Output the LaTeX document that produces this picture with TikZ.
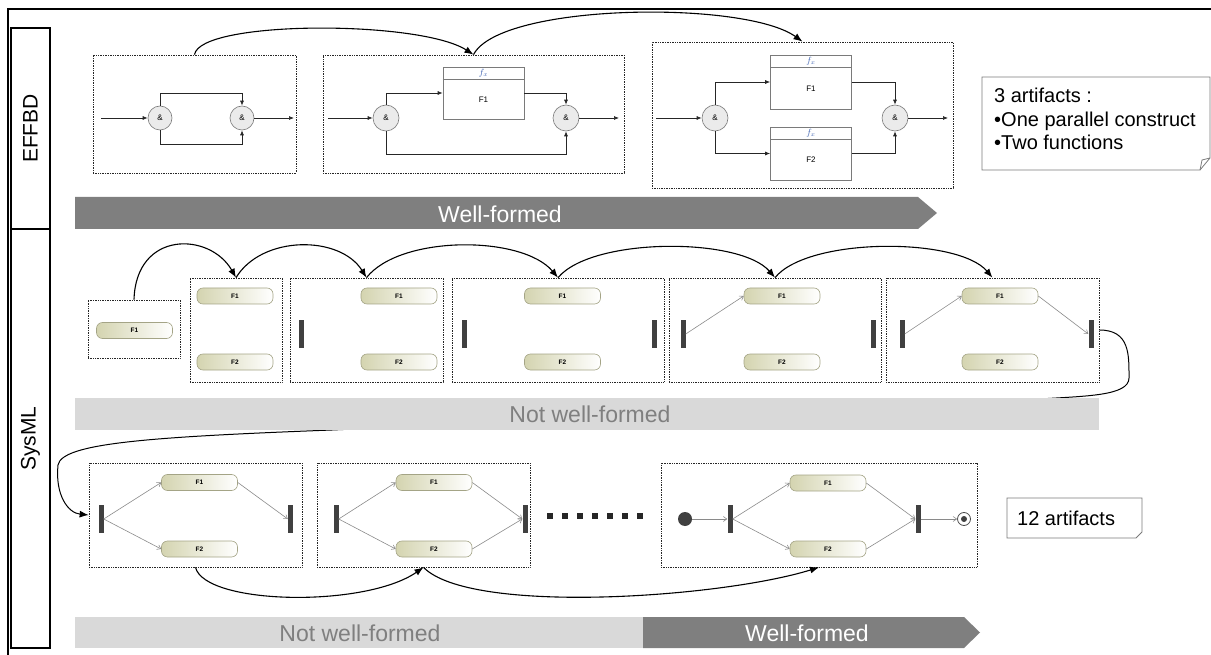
\documentclass[tikz,border=0pt]{standalone}
\usepackage{fontspec}
\setmainfont{Liberation Sans}
\usetikzlibrary{arrows.meta,calc}
\definecolor{dk}{HTML}{7F7F7F}
\definecolor{lt}{HTML}{D9D9D9}
\definecolor{barc}{HTML}{404040}
\definecolor{pillL}{HTML}{D4D4B0}
\definecolor{pillB}{HTML}{A4A486}
\definecolor{fxblue}{HTML}{3A5FB0}
\definecolor{fgray}{HTML}{7A7A7A}
\definecolor{circfill}{HTML}{EBEBEB}
\definecolor{sgray}{HTML}{8A8A8A}
\begin{document}
\begin{tikzpicture}[x=1pt,y=-1pt,
  frame/.style 2 args={draw=black!85, densely dotted, line width=0.7pt, inner sep=0pt, minimum width=#1, minimum height=#2},
  labelbox/.style 2 args={draw=black, line width=1.3pt, inner sep=0pt, rotate=90, minimum width=#1, minimum height=#2, font=\fontsize{21}{21}\selectfont},
  fcirc/.style={circle, draw=fgray, fill=circfill, line width=0.6pt, minimum size=24pt, inner sep=0pt, font=\fontsize{8}{8}\selectfont},
  fnbox/.style={draw=fgray, fill=white, line width=0.7pt, minimum width=81pt, minimum height=53pt, inner sep=0pt},
  fxlabel/.style={text=fxblue, font=\fontsize{9}{9}\selectfont, inner sep=0pt},
  fnlabel/.style={font=\fontsize{8}{8}\selectfont, inner sep=0pt},
  effarr/.style={draw=black!85, line width=0.7pt, -{Latex[length=5pt,width=4pt]}},
  pill/.style={draw=pillB, line width=0.6pt, rounded corners=6pt, left color=pillL, right color=white, minimum width=76pt, minimum height=16pt, inner sep=0pt, font=\fontsize{6.5}{7}\selectfont\bfseries},
  forkbar/.style={fill=barc, minimum width=5pt, minimum height=27pt, inner sep=0pt},
  sarr/.style={draw=sgray, line width=0.6pt, -{Straight Barb[length=3.5pt,width=5pt]}},
  bigarr/.style={draw=black, line width=1.1pt, -{Latex[length=9pt,width=7pt]}},
  bartext/.style={font=\fontsize{23}{23}\selectfont, inner sep=0pt},
  notetext/.style={font=\fontsize{20}{20}\selectfont, inner sep=0pt},
  notebox/.style={draw=fgray, line width=0.8pt}
]
\useasboundingbox (0,0) rectangle (1211,655);

% outer frame
\draw[line width=2pt] (8,655) -- (8,9) -- (1211,9);
\node[labelbox={201}{39}] (effbd) at (30.5,128.5) {EFFBD};
\node[labelbox={419}{39}] (sysml) at (30.5,438.5) {SysML};

% ================= EFFBD row =================
% Box A
\node[frame={203}{118}] (A) at (194.5,114) {};
\coordinate (ain) at (101,118);
\coordinate (aout) at (294,118);
\node[fcirc] (a1) at (160,118) {\&};
\node[fcirc] (a2) at (242,118) {\&};
\draw[effarr] (ain) -- (a1);
\draw[effarr] (a1.north) -- ++(0,-12) -| (a2.north);
\draw[effarr] (a1.south) -- ++(0,14) -| (a2.south);
\draw[effarr] (a2) -- (aout);

% Box B
\node[frame={301}{118}] (B) at (473.5,114) {};
\coordinate (bin) at (328,118);
\coordinate (bout) at (619,118);
\node[fcirc, minimum size=26pt] (b1) at (386,118) {\&};
\node[fnbox, minimum height=52pt] (bf1) at (483.5,93) {};
\node[fcirc, minimum size=26pt] (b2) at (566,118) {\&};
\draw[effarr] (bin) -- (b1);
\draw[effarr] (b1.north) |- (bf1.west);
\draw[effarr] (bf1.east) -| (b2.north);
\draw[effarr] (b1.south) -- ++(0,23) -| (b2.south);
\draw[effarr] (b2) -- (bout);

% Box C
\node[frame={301}{146}] (C) at (802.5,115) {};
\coordinate (cin) at (656,118);
\coordinate (cout) at (948,118);
\node[fcirc, minimum size=26pt] (c1) at (715,118) {\&};
\node[fnbox, minimum height=54pt] (cf1) at (811,82) {};
\node[fnbox] (cf2) at (811,153.5) {};
\node[fcirc, minimum size=26pt] (c2) at (895,118) {\&};
\draw[effarr] (cin) -- (c1);
\draw[effarr] (c1.north) |- (cf1.west);
\draw[effarr] (c1.south) |- (cf2.west);
\draw[effarr] (cf1.east) -| (c2.north);
\draw[effarr] (cf2.east) -| (c2.south);
\draw[effarr] (c2) -- (cout);

\foreach \n/\t in {bf1/F1, cf1/F1, cf2/F2} {
  \draw[draw=fgray, line width=0.7pt] ($(\n.north west)+(0,13)$) -- ($(\n.north east)+(0,13)$);
  \node[fxlabel] (\n-fx) at ($(\n.north)+(0,6.5)$) {$f_{x}$};
  \node[fnlabel] (\n-t) at ($(\n.center)+(0,6.5)$) {\t};
}

% curved arrows EFFBD
\draw[bigarr] (A.north) .. controls (200,20) and (420,20) .. (B.north);
\draw[bigarr] (B.north) .. controls (500,3) and (745,0) .. (C.north);

% note
\draw[notebox] (982,77) -- (1210,77) -- (1210,158) -- (1200,170) -- (982,170) -- cycle;
\draw[notebox] (1200,170) -- (1202,160) -- (1210,158);
\node[notetext, anchor=base west] (n1a) at (994,103) {3 artifacts :};
\node[notetext, anchor=base west] (n1b) at (994,126.5) {\textbullet One parallel construct};
\node[notetext, anchor=base west] (n1c) at (994,150) {\textbullet Two functions};

% Well-formed bar
\fill[dk] (75,197) -- (918,197) -- (937,213) -- (918,229) -- (75,229) -- cycle;
\node[bartext, text=white] (wf1) at (500,214) {Well-formed};

% ================= SysML row 1 =================
\node[frame={92}{58}] (S1) at (134,329) {};
\node[pill] (s1f1) at (134.5,330.5) {F1};

\node[frame={92}{104}] (S2) at (236,330) {};
\node[pill] (s2f1) at (235,296) {F1};
\node[pill] (s2f2) at (235,362) {F2};

\node[frame={153}{104}] (S3) at (366.5,330) {};
\node[forkbar] (s3l) at (301,334) {};
\node[pill] (s3f1) at (399,296) {F1};
\node[pill] (s3f2) at (399,362) {F2};

\node[frame={212}{104}] (S4) at (558,330) {};
\node[forkbar] (s4l) at (464,334) {};
\node[forkbar] (s4r) at (654,334) {};
\node[pill] (s4f1) at (562.5,296) {F1};
\node[pill] (s4f2) at (562.5,362) {F2};

\node[frame={212}{104}] (S5) at (775,330) {};
\node[forkbar] (s5l) at (683,334) {};
\node[forkbar] (s5r) at (873,334) {};
\node[pill] (s5f1) at (782,296) {F1};
\node[pill] (s5f2) at (782,362) {F2};
\draw[sarr] (s5l.east) -- (s5f1.west);

\node[frame={213}{104}] (S6) at (992.5,330) {};
\node[forkbar] (s6l) at (902,334) {};
\node[forkbar] (s6r) at (1091,334) {};
\node[pill] (s6f1) at (1000,296) {F1};
\node[pill] (s6f2) at (1000,362) {F2};
\draw[sarr] (s6l.east) -- (s6f1.west);
\draw[sarr] (s6f1.east) -- (s6r.west);

\draw[bigarr] (S1.north) .. controls (136,230) and (210,232) .. (S2.north);
\draw[bigarr] (S2.north) .. controls (262,235) and (340,235) .. (S3.north);
\draw[bigarr] (S3.north) .. controls (400,235) and (522,235) .. (S4.north);
\draw[bigarr] (S4.north) .. controls (592,237) and (740,237) .. (S5.north);
\draw[bigarr] (S5.north) .. controls (808,237) and (958,237) .. (S6.north);

% ================= SysML row 2 =================
\node[frame={213}{104}] (T1) at (195.5,515) {};
\node[forkbar, minimum height=28pt] (t1l) at (101,519) {};
\node[forkbar, minimum height=28pt] (t1r) at (290.5,519) {};
\node[pill] (t1f1) at (199.5,482.5) {F1};
\node[pill] (t1f2) at (199.5,549) {F2};
\draw[sarr] (t1l.east) -- (t1f1.west);
\draw[sarr] (t1l.east) -- (t1f2.west);
\draw[sarr] (t1f1.east) -- (t1r.west);

\node[frame={213}{104}] (T2) at (423.5,515) {};
\node[forkbar, minimum height=28pt] (t2l) at (336,519) {};
\node[forkbar, minimum height=28pt] (t2r) at (525,519) {};
\node[pill] (t2f1) at (434,482.5) {F1};
\node[pill] (t2f2) at (434,549) {F2};
\draw[sarr] (t2l.east) -- (t2f1.west);
\draw[sarr] (t2l.east) -- (t2f2.west);
\draw[sarr] (t2f1.east) -- (t2r.west);
\draw[sarr] (t2f2.east) -- (t2r.west);

\foreach \i in {0,...,6} \fill[black!85] ({547+15*\i},513) rectangle ++(6,6);

\node[frame={316}{104}] (T3) at (819,515) {};
\node[circle, fill=barc, minimum size=14pt, inner sep=0pt] (init) at (685,519) {};
\node[forkbar, minimum height=28pt] (t3l) at (730,519) {};
\node[forkbar, minimum height=28pt] (t3r) at (918,519) {};
\node[pill] (t3f1) at (828,483) {F1};
\node[pill] (t3f2) at (828,549) {F2};
\node[circle, draw=black!70, fill=white, line width=0.8pt, minimum size=13pt, inner sep=0pt] (final) at (964,519) {};
\node[circle, fill=barc, minimum size=6pt, inner sep=0pt] (finaldot) at (final) {};
\draw[sarr] (init) -- (t3l.west);
\draw[sarr] (t3l.east) -- (t3f1.west);
\draw[sarr] (t3l.east) -- (t3f2.west);
\draw[sarr] (t3f1.east) -- (t3r.west);
\draw[sarr] (t3f2.east) -- (t3r.west);
\draw[sarr] (t3r.east) -- (final);

% long curve from row 1 to row 2 (passes under the bar)
\draw[bigarr, line width=1pt] (S6.east) .. controls (1130,330) and (1129,355) .. (1129,378)
   .. controls (1129,396) and (1085,396) .. (1040,399) -- (332,430)
   .. controls (150,437) and (62,443) .. (58,465)
   .. controls (55,495) and (68,513) .. (T1.west);

% Not well-formed bar (row 1)
\fill[lt] (75,398) rectangle (1099,430);
\node[bartext, text=dk] (nwf1) at (590,414) {Not well-formed};

\draw[bigarr] (T1.south) .. controls (205,605) and (365,608) .. (T2.south);
\draw[bigarr] (T2.south) .. controls (470,615) and (720,598) .. (T3.south);

% 12 artifacts note
\draw[notebox] (1007,498) -- (1142,498) -- (1142,532) -- (1136,538) -- (1007,538) -- cycle;
\node[notetext, anchor=west] (n2) at (1017,518) {12 artifacts};

% bottom bars
\fill[lt] (75,617) rectangle (643,648);
\fill[dk] (643,617) -- (964,617) -- (980,632.5) -- (964,648) -- (643,648) -- cycle;
\node[bartext, text=dk] (nwf2) at (360,633) {Not well-formed};
\node[bartext, text=white] (wf2) at (807,633) {Well-formed};
\end{tikzpicture}
\end{document}
